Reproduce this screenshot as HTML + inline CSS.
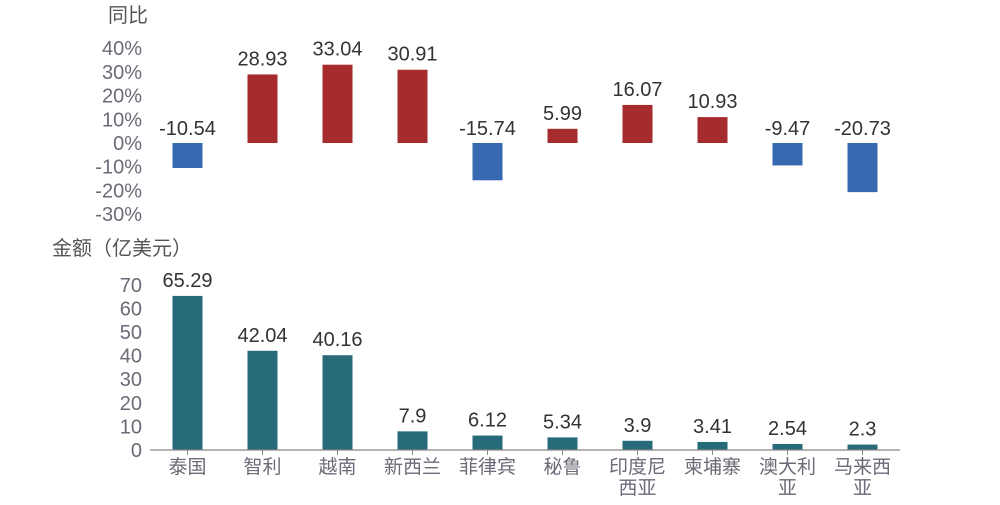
<!DOCTYPE html>
<html><head><meta charset="utf-8"><style>
body{margin:0;background:#fff;width:1000px;height:500px;overflow:hidden}
svg{font-family:"Liberation Sans","Noto Sans CJK SC",sans-serif}
</style></head><body>
<svg width="1000" height="500">
<g id="topg"></g>
<g id="botg"></g>
</svg>
<script>
const categories=[["泰国"],["智利"],["越南"],["新西兰"],["菲律宾"],["秘鲁"],["印度尼","西亚"],["柬埔寨"],["澳大利","亚"],["马来西","亚"]];
const yoyValues=[-10.54,28.93,33.04,30.91,-15.74,5.99,16.07,10.93,-9.47,-20.73];
const amountValues=[65.29,42.04,40.16,7.9,6.12,5.34,3.9,3.41,2.54,2.3];
const yoyTicks=[40,30,20,10,0,-10,-20,-30];
const amountTicks=[70,60,50,40,30,20,10,0];
const NS="http://www.w3.org/2000/svg";
function mk(p,t,a,txt){const e=document.createElementNS(NS,t);for(const k in a)e.setAttribute(k,a[k]);if(txt!==undefined)e.textContent=txt;p.appendChild(e);return e;}
const xC=i=>187.5+75*i;
const yTop=v=>143-v*2.37;
const yBot=v=>450-v*2.36;
const gTop=document.getElementById('topg'),gBot=document.getElementById('botg');
let t=mk(gTop,'text',{x:108,y:22,'font-size':20,fill:'#555'},'同比');


yoyTicks.forEach(v=>{const e=mk(gTop,'text',{x:142,y:yTop(v)+7,'font-size':20,fill:'#6b6b78','text-anchor':'end'},v+'%');

});
yoyValues.forEach((v,i)=>{const y0=Math.min(yTop(v),yTop(0));const h=Math.abs(yTop(v)-yTop(0));
const r=mk(gTop,'rect',{x:xC(i)-15,y:y0,width:30,height:h,fill:v>=0?'#a52b2c':'#3769b1'});


const ly=v>=0?yTop(v)-9:yTop(0)-8;
const l=mk(gTop,'text',{x:xC(i),y:ly,'font-size':20,fill:'#333','text-anchor':'middle'},String(v));

});
t=mk(gBot,'text',{x:52,y:255,'font-size':20,fill:'#555'},'金额（亿美元）');


amountTicks.forEach(v=>{const e=mk(gBot,'text',{x:142,y:yBot(v)+7,'font-size':20,fill:'#6b6b78','text-anchor':'end'},String(v));

});
amountValues.forEach((v,i)=>{const r=mk(gBot,'rect',{x:xC(i)-15,y:yBot(v),width:30,height:yBot(0)-yBot(v),fill:'#276a79'});


const l=mk(gBot,'text',{x:xC(i),y:yBot(v)-9,'font-size':20,fill:'#333','text-anchor':'middle'},String(v));


const tk=mk(gBot,'line',{x1:xC(i),x2:xC(i),y1:450,y2:455,stroke:'#888'});


categories[i].forEach((s,j)=>{const c=mk(gBot,'text',{x:xC(i),y:473+j*21,'font-size':19,fill:'#6b6b78','text-anchor':'middle'},s);

});});
const ax=mk(gBot,'line',{x1:150,x2:900,y1:450,y2:450,stroke:'#888','stroke-width':1.2});


</script>
</body></html>
